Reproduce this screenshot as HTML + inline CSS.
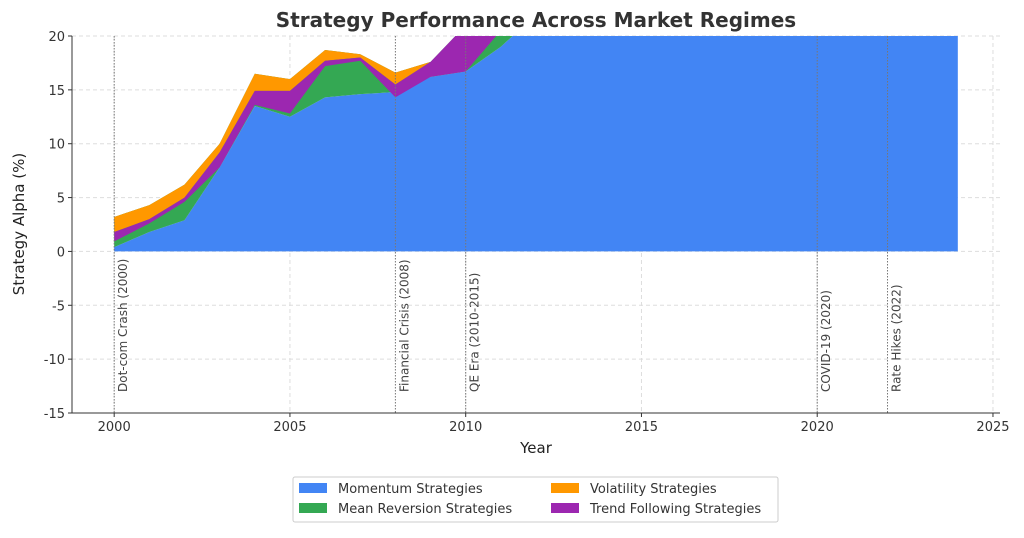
<!DOCTYPE html>
<html><head><meta charset="utf-8"><style>
body{margin:0;background:#fff;}
svg text{font-family:"DejaVu Sans","Liberation Sans",sans-serif;}
</style></head><body>
<svg id="chart" width="1024" height="533" xmlns="http://www.w3.org/2000/svg">
<defs><clipPath id="plotclip"><rect x="72" y="36" width="928" height="377"/></clipPath></defs>
<rect width="1024" height="533" fill="#fff"/>
<text x="536" y="27" text-anchor="middle" font-size="20" font-weight="bold" fill="#333">Strategy Performance Across Market Regimes</text>
<g id="grid"></g>
<g id="areas" clip-path="url(#plotclip)"></g>
<g id="events"></g>
<g id="axes"></g>
<text x="536" y="453" text-anchor="middle" font-size="15" fill="#222">Year</text>
<text transform="translate(24,224) rotate(-90)" text-anchor="middle" font-size="15" fill="#222">Strategy Alpha (%)</text>
<g>
<rect x="293" y="477" width="485" height="45" fill="#fff" stroke="#ccc" rx="2"/>
<rect x="299" y="483" width="28" height="10" fill="#4285F4"/>
<text x="338" y="493" font-size="13" fill="#333">Momentum Strategies</text>
<rect x="299" y="503" width="28" height="10" fill="#34A853"/>
<text x="338" y="513" font-size="13" fill="#333">Mean Reversion Strategies</text>
<rect x="551" y="483" width="28" height="10" fill="#FF9800"/>
<text x="590" y="493" font-size="13" fill="#333">Volatility Strategies</text>
<rect x="551" y="503" width="28" height="10" fill="#9C27B0"/>
<text x="590" y="513" font-size="13" fill="#333">Trend Following Strategies</text>
</g>
</svg>
<script>
const years = [2000,2001,2002,2003,2004,2005,2006,2007,2008,2009,2010,2011,2012,2013,2014,2015,2016,2017,2018,2019,2020,2021,2022,2023,2024];
const momentum = [0.4,1.8,2.9,7.8,13.5,12.5,14.3,14.6,14.8,16.2,16.7,19,22,23,24,25,25,26,27,27,28,29,30,30,31];
const meanReversion = [2.8,2.5,3.3,2.2,3.0,3.5,4.4,3.7,1.8,1.4,4.3,3,2,2,2,2,2,2,2,2,2,2,2,2,2];
const volatility = [-1.4,-1.3,-1.2,-0.8,-1.6,-1.1,-1.0,-0.3,-1.1,0,0,0,0,0,0,0,0,0,0,0,0,0,0,0,0];
const trendFollowing = [-0.87,-0.4,-0.4,-1.4,-1.3,-2.1,-0.5,-0.3,-1.2,-1.4,-4.3,-1.5,-1,-1,-1,-1,-1,-1,-1,-1,-1,-1,-1,-1,-1];
const xTicks = [2000,2005,2010,2015,2020,2025];
const yTicks = [-15,-10,-5,0,5,10,15,20];
const eventYears = [2000,2008,2010,2020,2022];
const eventLabels = ["Dot-com Crash (2000)","Financial Crisis (2008)","QE Era (2010-2015)","COVID-19 (2020)","Rate Hikes (2022)"];

const NS="http://www.w3.org/2000/svg";
const X0=72,X1=1000,Y0=36,Y1=413,xmin=1998.8,xmax=2025.2,ymin=-15,ymax=20;
const xs=v=>X0+(v-xmin)/(xmax-xmin)*(X1-X0);
const ys=v=>Y1-(v-ymin)/(ymax-ymin)*(Y1-Y0);
function mk(tag,attrs,parent){const e=document.createElementNS(NS,tag);for(const k in attrs)e.setAttribute(k,attrs[k]);parent.appendChild(e);return e;}
const grid=document.getElementById('grid'),axes=document.getElementById('axes'),areas=document.getElementById('areas'),events=document.getElementById('events');
xTicks.forEach(t=>{
  const l=mk('line',{x1:xs(t),x2:xs(t),y1:Y0,y2:Y1,stroke:'#ddd','stroke-dasharray':'4,3'},grid);
  
  
  const tk=mk('line',{x1:xs(t),x2:xs(t),y1:Y1,y2:Y1+4,stroke:'#333'},axes);
  
  
  const tx=mk('text',{x:xs(t),y:Y1+18,'text-anchor':'middle','font-size':13,fill:'#333'},axes);
  tx.textContent=t;
  
  
});
yTicks.forEach(t=>{
  const l=mk('line',{x1:X0,x2:X1,y1:ys(t),y2:ys(t),stroke:'#ddd','stroke-dasharray':'4,3'},grid);
  
  
  const tk=mk('line',{x1:X0-4,x2:X0,y1:ys(t),y2:ys(t),stroke:'#333'},axes);
  
  
  const tx=mk('text',{x:X0-7,y:ys(t)+5,'text-anchor':'end','font-size':13,fill:'#333'},axes);
  tx.textContent=t;
  
  
});
const series=[["momentum",momentum,"#4285F4"],["mean-reversion",meanReversion,"#34A853"],["volatility",volatility,"#FF9800"],["trend-following",trendFollowing,"#9C27B0"]];
let base=years.map(()=>0);
series.forEach(([name,vals,col])=>{
  const top=base.map((b,i)=>b+vals[i]);
  let d='';
  years.forEach((y,i)=>{d+=(i?'L':'M')+xs(y)+','+ys(top[i]);});
  for(let i=years.length-1;i>=0;i--)d+='L'+xs(years[i])+','+ys(base[i]);
  const p=mk('path',{d:d+'Z',fill:col},areas);
  
  
  base=top;
});
eventYears.forEach((y,i)=>{
  const l=mk('line',{x1:xs(y),x2:xs(y),y1:Y0,y2:Y1,stroke:'#777','stroke-dasharray':'1.5,1.5','stroke-width':1},events);
  
  
  const t=mk('text',{transform:`translate(${xs(y)+13},392) rotate(-90)`,'font-size':12,fill:'#444'},events);
  t.textContent=eventLabels[i];
  
  
});
const fr=mk('path',{d:`M${X0},${Y0}V${Y1}H${X1}`,fill:'none',stroke:'#333','stroke-width':1},axes);


</script>
</body></html>
